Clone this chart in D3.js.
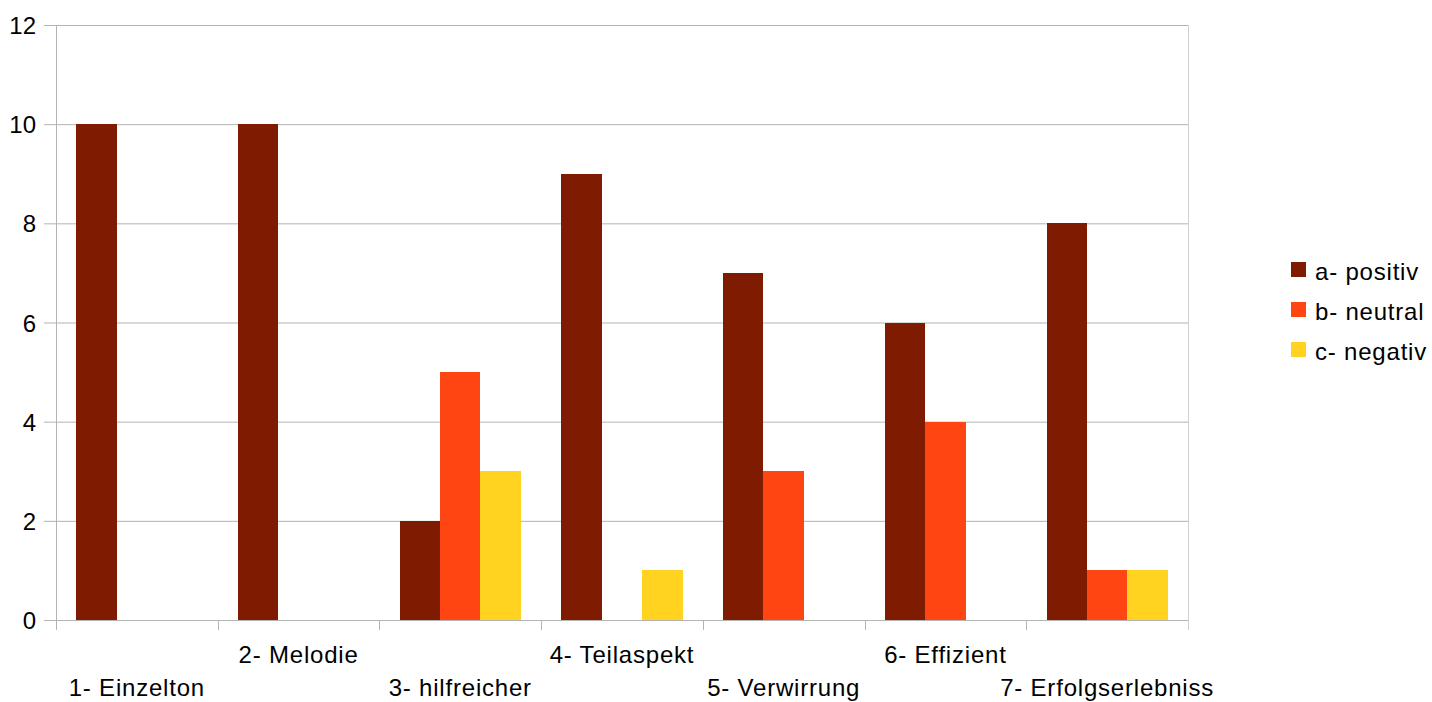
<!DOCTYPE html>
<html>
<head>
<meta charset="utf-8">
<script src="https://cdn.jsdelivr.net/npm/d3@7"></script>
<style>
  body { margin: 0; background: #fff; }
  text { font-family: "Liberation Sans", Arial, sans-serif; fill: #000; }
</style>
</head>
<body>
<script>
var Width = 1432;
var Height = 702;

// the data
var categories = ["1- Einzelton", "2- Melodie", "3- hilfreicher", "4- Teilaspekt",
                  "5- Verwirrung", "6- Effizient", "7- Erfolgserlebniss"];
var seriesNames = ["a- positiv", "b- neutral", "c- negativ"];
var positiv = [10, 10, 2, 9, 7, 6, 8];
var neutral = [0, 0, 5, 0, 3, 4, 1];
var negativ = [0, 0, 3, 1, 0, 0, 1];
var yTicks = [0, 2, 4, 6, 8, 10, 12];
var colors = ["#7f1b00", "#ff4511", "#ffd320"];

var Plot = {left: 56, right: 1188, top: 25, bottom: 620};

function main () {
  var svg = d3.select("body").append("svg")
    .attr("width", Width)
    .attr("height", Height);

  var series = [positiv, neutral, negativ];
  var rows = categories.map(function(c, i) {
    return {cat: c, values: series.map(function(s, j) { return {key: j, value: s[i]}; })};
  });

  var xScale = d3.scaleBand()
    .domain(categories)
    .range([Plot.left, Plot.right]);
  var inner = d3.scaleBand()
    .domain([0, 1, 2])
    .range([0, xScale.bandwidth()])
    .paddingOuter(0.5);
  var yScale = d3.scaleLinear()
    .domain([0, 12])
    .range([Plot.bottom, Plot.top]);

  // gridlines
  svg.append("g").selectAll("line")
    .data(yTicks)
    .enter().append("line")
    .attr("x1", Plot.left - 12)
    .attr("x2", Plot.right)
    .attr("y1", function(d) { return yScale(d) + 0.5; })
    .attr("y2", function(d) { return yScale(d) + 0.5; })
    .attr("stroke", "#b3b3b3")
    .attr("stroke-width", 1);

  // y axis line
  svg.append("line")
    .attr("x1", Plot.left + 0.5).attr("x2", Plot.left + 0.5)
    .attr("y1", Plot.top).attr("y2", Plot.bottom + 10)
    .attr("stroke", "#b3b3b3");
  svg.append("line")
    .attr("x1", Plot.right + 0.5).attr("x2", Plot.right + 0.5)
    .attr("y1", Plot.top).attr("y2", Plot.bottom + 10)
    .attr("stroke", "#d0d0d0");

  // category tick marks
  svg.append("g").selectAll("line")
    .data(categories)
    .enter().append("line")
    .attr("x1", function(d) { return Math.round(xScale(d)) + 0.5; })
    .attr("x2", function(d) { return Math.round(xScale(d)) + 0.5; })
    .attr("y1", Plot.bottom)
    .attr("y2", Plot.bottom + 10)
    .attr("stroke", "#b3b3b3");

  // bars
  var groups = svg.append("g").selectAll("g")
    .data(rows)
    .enter().append("g")
    .attr("transform", function(d) { return "translate(" + xScale(d.cat) + ",0)"; });
  groups.selectAll("rect")
    .data(function(d) { return d.values.filter(function(v) { return v.value > 0; }); })
    .enter().append("rect")
    .attr("x", function(d) { return inner(d.key); })
    .attr("width", inner.bandwidth())
    .attr("y", function(d) { return yScale(d.value); })
    .attr("height", function(d) { return yScale(0) - yScale(d.value); })
    .attr("fill", function(d) { return colors[d.key]; })
    .attr("shape-rendering", "crispEdges");

  // y labels
  svg.append("g").selectAll("text")
    .data(yTicks)
    .enter().append("text")
    .attr("x", 36)
    .attr("y", function(d) { return yScale(d) + 9; })
    .attr("text-anchor", "end")
    .style("font-size", "24px")
    .text(function(d) { return d; });

  // x labels, staggered
  svg.append("g").selectAll("text")
    .data(categories)
    .enter().append("text")
    .attr("x", function(d) { return xScale(d) + xScale.bandwidth() / 2; })
    .attr("y", function(d, i) { return i % 2 === 0 ? 696 : 663; })
    .attr("text-anchor", "middle")
    .style("font-size", "24px")
    .style("letter-spacing", "0.8px")
    .text(function(d) { return d; });

  // legend
  var legend = svg.append("g").selectAll("g")
    .data(seriesNames)
    .enter().append("g")
    .attr("transform", function(d, i) { return "translate(1291," + (262 + i * 40) + ")"; });
  legend.append("rect")
    .attr("width", 15).attr("height", 15)
    .attr("fill", function(d, i) { return colors[i]; });
  legend.append("text")
    .attr("x", 24).attr("y", 18)
    .style("font-size", "24px")
    .style("letter-spacing", "0.8px")
    .text(function(d) { return d; });
}

main();
</script>
</body>
</html>
